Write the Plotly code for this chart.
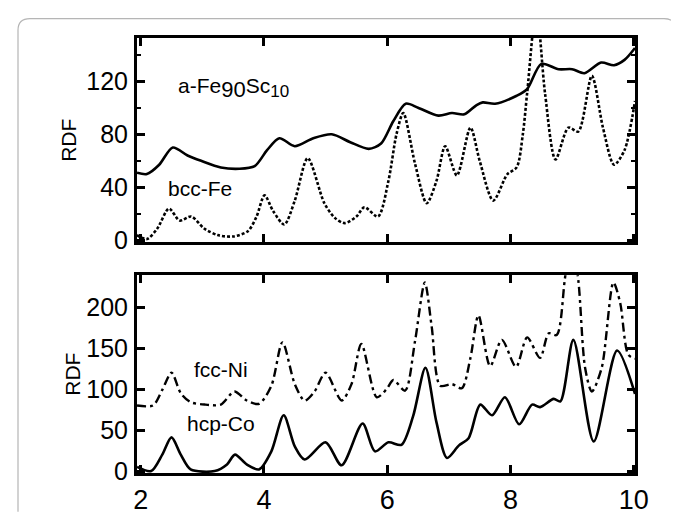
import plotly.graph_objects as go
from plotly.subplots import make_subplots

# ---- data ----
feSc_x = [1.94, 2.1, 2.3, 2.52, 2.76, 2.98, 3.3, 3.6, 3.85, 4.05, 4.25, 4.5, 4.8, 5.1, 5.4, 5.7,
          5.9, 6.1, 6.3, 6.5, 6.83, 7.05, 7.25, 7.45, 7.55, 7.75, 8.1, 8.27, 8.5, 8.78, 9.0, 9.2,
          9.47, 9.68, 9.85, 10.02]
feSc_y = [51, 50, 57, 70, 64, 60, 55, 54, 56, 68, 77, 71, 77, 80, 74, 69,
          73, 90, 103, 100, 94, 96, 95, 102, 104, 103, 109, 114, 133, 129, 129, 126,
          134, 132, 136, 145]

bccFe_x = [1.94, 2.1, 2.27, 2.46, 2.63, 2.82, 3.03, 3.25, 3.5, 3.74, 3.88, 4.01, 4.15, 4.33, 4.5,
           4.71, 4.98, 5.15, 5.31, 5.5, 5.63, 5.85, 6.02, 6.15, 6.26, 6.45, 6.64, 6.8, 6.94, 7.13,
           7.35, 7.5, 7.72, 7.95, 8.1, 8.2, 8.27, 8.42, 8.56, 8.73, 8.94, 9.1, 9.32, 9.5, 9.68,
           9.85, 10.02]
bccFe_y = [4, 1, 9, 24, 15, 18, 9, 4, 3, 7, 18, 34, 22, 12, 30,
           62, 28, 17, 13, 18, 25, 18, 45, 80, 96, 58, 28, 45, 71, 49,
           85, 60, 30, 50, 55, 80, 111, 175, 111, 61, 85, 82, 124, 85, 57,
           68, 105]

fccNi_x = [1.94, 2.2, 2.35, 2.5, 2.65, 2.81, 3.05, 3.3, 3.52, 3.72, 3.92, 4.12, 4.3, 4.5, 4.66,
           4.82, 5.0, 5.26, 5.42, 5.58, 5.83, 5.99, 6.1, 6.29, 6.45, 6.61, 6.72, 6.86, 7.05, 7.21,
           7.35, 7.48, 7.67, 7.86, 8.09, 8.27, 8.48, 8.62, 8.75, 8.88, 8.98, 9.1, 9.21, 9.32,
           9.48, 9.67, 9.78, 9.91, 10.02]
fccNi_y = [80, 80, 99, 120, 95, 84, 81, 81, 97, 86, 82, 104, 157, 106, 86,
           97, 120, 86, 106, 155, 90, 100, 111, 98, 158, 230, 177, 104, 106, 101,
           138, 190, 128, 160, 127, 163, 138, 168, 166, 233, 290, 233, 126, 97,
           126, 230, 205, 142, 137]

hcpCo_x = [1.94, 2.17, 2.35, 2.5, 2.65, 2.81, 3.2, 3.4, 3.53, 3.72, 3.92, 4.12, 4.32, 4.5, 4.66,
           5.0, 5.26, 5.6, 5.8, 6.02, 6.23, 6.42, 6.62, 6.8, 6.97, 7.16, 7.32, 7.51, 7.7, 7.91,
           8.14, 8.35, 8.48, 8.7, 8.81, 9.02, 9.35, 9.73, 10.02]
hcpCo_y = [5, 0, 20, 41, 20, 2, 0, 8, 20, 8, 2, 24, 68, 30, 14,
           35, 7, 58, 24, 35, 32, 67, 126, 59, 16, 31, 40, 81, 68, 90,
           57, 81, 78, 88, 85, 160, 36, 147, 94]

x_ticks = [2, 4, 6, 8, 10]
top_yticks = [0, 40, 80, 120]
bot_yticks = [0, 50, 100, 150, 200]

# ---- layout geometry ----
W, H = 679, 519
L, R, T, B = 129, 627, 30, 479
top_dom = [(B - 241) / (B - T), 1.0]
bot_dom = [0.0, (B - 275) / (B - T)]

FONT = "Liberation Sans, Arial, sans-serif"

fig = make_subplots(rows=2, cols=1, shared_xaxes=False)

fig.add_trace(go.Scatter(x=feSc_x, y=feSc_y, mode="lines", line=dict(color="black", width=2.6, shape="spline", smoothing=0.8)), row=1, col=1)
fig.add_trace(go.Scatter(x=bccFe_x, y=bccFe_y, mode="lines", line=dict(color="black", width=2.6, shape="spline", smoothing=0.8, dash="3px,2px")), row=1, col=1)
fig.add_trace(go.Scatter(x=fccNi_x, y=fccNi_y, mode="lines", line=dict(color="black", width=2.4, shape="spline", smoothing=0.8, dash="9px,4px,3px,4px")), row=2, col=1)
fig.add_trace(go.Scatter(x=hcpCo_x, y=hcpCo_y, mode="lines", line=dict(color="black", width=2.6, shape="spline", smoothing=0.8)), row=2, col=1)

axis_common = dict(showline=True, linecolor="black", linewidth=3, mirror="allticks",
                   ticks="inside", ticklen=8, tickwidth=2.5, tickcolor="black",
                   showgrid=False, zeroline=False)

fig.update_layout(
    width=W, height=H,
    margin=dict(l=L, r=W - R, t=T, b=H - B),
    paper_bgcolor="white", plot_bgcolor="white",
    showlegend=False,
    font=dict(family=FONT, color="black"),
    xaxis=dict(domain=[0, 1], anchor="y", range=[1.94, 10.02], tickvals=x_ticks, showticklabels=False, **axis_common),
    yaxis=dict(domain=top_dom, anchor="x", range=[-1.5, 152.5], tickvals=top_yticks,
               minor=dict(dtick=20, tick0=0, ticks="inside", ticklen=4, tickwidth=2, tickcolor="black"),
               tickfont=dict(size=25, family=FONT), ticklabelstandoff=1,
               title=dict(text="RDF", font=dict(size=21, family=FONT), standoff=4), **axis_common),
    xaxis2=dict(domain=[0, 1], anchor="y2", range=[1.94, 10.02], tickvals=x_ticks,
                tickfont=dict(size=27, family=FONT), ticklabelstandoff=1, **axis_common),
    yaxis2=dict(domain=bot_dom, anchor="x2", range=[-2.4, 238.7], tickvals=bot_yticks,
                tickfont=dict(size=25, family=FONT), ticklabelstandoff=1,
                title=dict(text="RDF", font=dict(size=21, family=FONT), standoff=0), **axis_common),
)

ANN = 21
fig.add_annotation(x=3.5, y=115, xref="x", yref="y",
                   text="a-Fe<sub><span style='font-size:22px'>90</span></sub>Sc<sub><span style='font-size:17px'>10</span></sub>",
                   showarrow=False, font=dict(size=ANN, family=FONT))
fig.add_annotation(x=2.96, y=39, xref="x", yref="y", text="bcc-Fe",
                   showarrow=False, font=dict(size=ANN, family=FONT))
fig.add_annotation(x=3.3, y=124, xref="x2", yref="y2", text="fcc-Ni",
                   showarrow=False, font=dict(size=ANN, family=FONT))
fig.add_annotation(x=3.3, y=58, xref="x2", yref="y2", text="hcp-Co",
                   showarrow=False, font=dict(size=ANN, family=FONT))

# decorative rounded frame around the figure
def px(xp):
    return (xp - L) / (R - L)

def py(yp):
    return (B - yp) / (B - T)

path = (f"M {px(10)},{py(519)} L {px(10)},{py(22)} Q {px(10)},{py(10)} {px(22)},{py(10)} "
        f"L {px(656)},{py(10)} Q {px(668)},{py(10)} {px(668)},{py(22)} L {px(668)},{py(258)}")
fig.add_shape(type="path", path=path, xref="paper", yref="paper",
              line=dict(color="#b5b5b5", width=1.2), layer="below")

fig.write_html("out.html")
